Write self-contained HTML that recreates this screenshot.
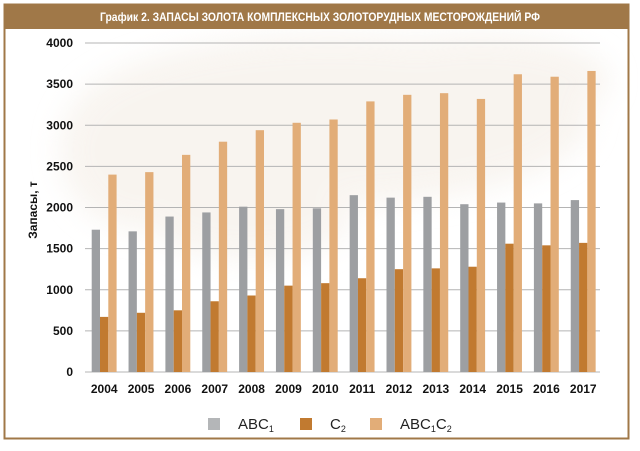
<!DOCTYPE html>
<html><head><meta charset="utf-8"><style>
body{margin:0;width:640px;height:446px;background:#fff;overflow:hidden;font-family:"Liberation Sans",sans-serif}
</style></head><body>
<svg width="640" height="446" xmlns="http://www.w3.org/2000/svg">
<defs><filter id="b"><feGaussianBlur stdDeviation="14"/></filter></defs>
<rect x="0" y="0" width="640" height="446" fill="#fff"/>
<g filter="url(#b)" fill="#f4eee6" opacity="0.6">
<ellipse cx="330" cy="120" rx="260" ry="85"/>
<ellipse cx="140" cy="150" rx="80" ry="80"/>
<ellipse cx="480" cy="80" rx="130" ry="45"/>
<ellipse cx="250" cy="220" rx="100" ry="40"/>
</g>
<rect x="4.5" y="4.5" width="624" height="434" fill="none" stroke="#a07848" stroke-width="2"/>
<rect x="4" y="4" width="625" height="25" fill="#a07848"/>
<text x="320" y="21" text-anchor="middle" fill="#fff" font-size="11.5" font-weight="bold" font-family="Liberation Sans Narrow,Liberation Sans,sans-serif" textLength="440" lengthAdjust="spacingAndGlyphs">График 2. ЗАПАСЫ ЗОЛОТА КОМПЛЕКСНЫХ ЗОЛОТОРУДНЫХ МЕСТОРОЖДЕНИЙ РФ</text>
<g id="grid" stroke="#b4b4b4" stroke-width="1"></g>
<g id="bars"></g>
<g id="lab" font-size="12" font-weight="bold" fill="#111"></g>
<text transform="translate(37,210) rotate(-90)" text-anchor="middle" font-size="12" font-weight="bold" fill="#111">Запасы, т</text>
<rect x="208" y="418" width="12" height="12" fill="#b4b6b8"/>
<text x="238" y="429" font-size="15" fill="#222">ABC<tspan font-size="9" dy="3">1</tspan></text>
<rect x="300" y="418" width="12" height="12" fill="#c17a30"/>
<text x="330" y="429" font-size="15" fill="#222">C<tspan font-size="9" dy="3">2</tspan></text>
<rect x="370" y="418" width="12" height="12" fill="#e2ad78"/>
<text x="400" y="429" font-size="15" fill="#222">ABC<tspan font-size="9" dy="3">1</tspan><tspan dy="-3">C</tspan><tspan font-size="9" dy="3">2</tspan></text>
</svg>
<script>
var ns="http://www.w3.org/2000/svg";
function el(p,t,a,txt){var e=document.createElementNS(ns,t);for(var k in a)e.setAttribute(k,a[k]);if(txt!=null)e.textContent=txt;document.getElementById(p).appendChild(e);}
var y0=372,s=0.08225;
for(var v=0;v<=4000;v+=500){var y=y0-v*s;el("grid","line",{x1:85,x2:600,y1:y,y2:y});el("lab","text",{x:73,y:y+4,"text-anchor":"end"},v);}
var a=[1730,1710,1890,1940,2010,1980,1990,2150,2120,2130,2040,2060,2050,2090];
var c=[670,720,750,860,930,1050,1080,1140,1250,1260,1280,1560,1540,1570];
var t=[2400,2430,2640,2800,2940,3030,3070,3290,3370,3390,3320,3620,3590,3660];
for(var i=0;i<14;i++){var x=91.7+i*36.85;
[[a,"#9d9fa2"],[c,"#c17a30"],[t,"#e2ad78"]].forEach(function(d,j){var h=d[0][i]*s;el("bars","rect",{x:x+j*8.3,y:y0-h,width:8.3,height:h,fill:d[1]});});
el("lab","text",{x:x+12.5,y:393,"text-anchor":"middle"},2004+i);}
</script>
</body></html>
